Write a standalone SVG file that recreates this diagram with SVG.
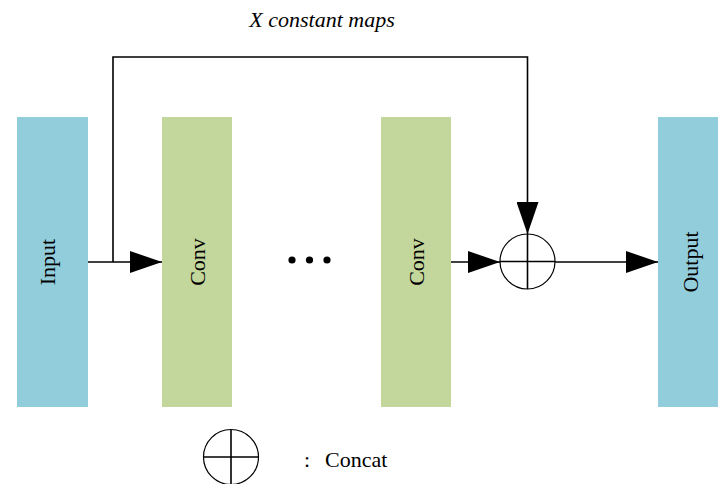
<svg xmlns="http://www.w3.org/2000/svg" width="718" height="484" viewBox="0 0 718 484">
  <style>
    .lbl { font-family: "Liberation Serif", "DejaVu Serif", serif; font-size: 22px; fill: #000; }
    .blue { fill: #92CDDC; }
    .green { fill: #C3D69B; }
    .wire { fill: none; stroke: #000; stroke-width: 1.6; }
    .ring { fill: #fff; stroke: #000; stroke-width: 1.2; }
  </style>
  <defs>
    <marker id="arrow" markerUnits="userSpaceOnUse" markerWidth="32" markerHeight="22" refX="32" refY="11" orient="auto">
      <path d="M0,0 L32,11 L0,22 Z" fill="#000"/>
    </marker>
  </defs>

  <text class="lbl" x="322" y="27" text-anchor="middle" font-style="italic">X constant maps</text>

  <g id="input">
    <rect class="blue" x="17" y="117" width="71" height="290"/>
    <text class="lbl" transform="translate(47,262) rotate(-90)" text-anchor="middle" dominant-baseline="central">Input</text>
  </g>
  <g id="conv1">
    <rect class="green" x="162" y="117" width="70" height="290"/>
    <text class="lbl" transform="translate(197,262) rotate(-90)" text-anchor="middle" dominant-baseline="central">Conv</text>
  </g>
  <g id="ellipsis">
    <circle cx="292" cy="260" r="3.6"/>
    <circle cx="309.5" cy="260" r="3.6"/>
    <circle cx="327" cy="260" r="3.6"/>
  </g>
  <g id="conv2">
    <rect class="green" x="381" y="117" width="70" height="290"/>
    <text class="lbl" transform="translate(416,262) rotate(-90)" text-anchor="middle" dominant-baseline="central">Conv</text>
  </g>
  <g id="concat">
    <circle class="ring" cx="527.5" cy="261.5" r="27.5"/>
    <path class="wire" stroke-width="1.2" d="M500,261.5 H555 M527.5,234 V289"/>
  </g>
  <g id="output">
    <rect class="blue" x="658" y="117" width="60" height="290"/>
    <text class="lbl" transform="translate(690,262) rotate(-90)" text-anchor="middle" dominant-baseline="central">Output</text>
  </g>

  <g id="connectors">
    <path class="wire" d="M88,262 H162" marker-end="url(#arrow)"/>
    <path class="wire" d="M113,262 V57 H527.5 V234" marker-end="url(#arrow)"/>
    <path class="wire" d="M451,262 H500" marker-end="url(#arrow)"/>
    <path class="wire" d="M555,262 H658" marker-end="url(#arrow)"/>
  </g>

  <g id="legend">
    <circle class="ring" cx="231" cy="457" r="27.5"/>
    <path class="wire" stroke-width="1.2" d="M203.5,457 H258.5 M231,429.5 V484.5"/>
    <text class="lbl" x="304" y="467">:</text>
    <text class="lbl" x="325" y="467">Concat</text>
  </g>
</svg>
